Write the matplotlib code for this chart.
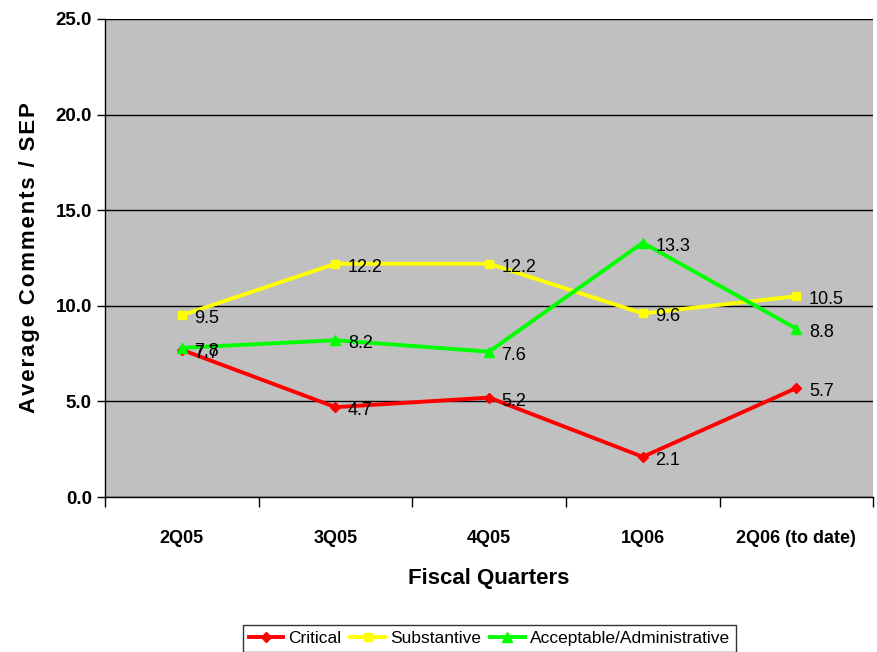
import matplotlib.pyplot as plt
import numpy as np

quarters = ['2Q05', '3Q05', '4Q05', '1Q06', '2Q06 (to date)']
critical = [7.7, 4.7, 5.2, 2.1, 5.7]
substantive = [9.5, 12.2, 12.2, 9.6, 10.5]
acceptable = [7.8, 8.2, 7.6, 13.3, 8.8]

plt.rcParams['font.family'] = ['Liberation Sans', 'DejaVu Sans']

fig = plt.figure(figsize=(8.77, 6.52), dpi=100)
ax = fig.add_axes([0.1197, 0.2377, 0.876, 0.7332])
ax.set_facecolor('#C0C0C0')

x = np.arange(len(quarters))
series = [(critical, '#FF0000', 'D', 5, 'Critical'),
          (substantive, '#FFFF00', 's', 6, 'Substantive'),
          (acceptable, '#00FF00', '^', 7, 'Acceptable/Administrative')]
for vals, col, mk, ms, lab in series:
    ax.plot(x, vals, color=col, marker=mk, markersize=ms, linewidth=2.8, label=lab)
    for xi, v in zip(x, vals):
        ax.annotate('%.1f' % v, (xi, v), xytext=(9, -2.5), textcoords='offset points',
                    ha='left', va='center', fontsize=13, color='black')

ax.set_xlim(-0.5, len(quarters) - 0.5)
ax.set_ylim(0, 25)
ax.set_yticks(np.arange(0, 26, 5))
ax.set_yticklabels(['%.1f' % v for v in np.arange(0, 26, 5)], fontsize=13.5, fontweight='bold')
ax.set_xticks(x)
ax.set_xticklabels(quarters, fontsize=13, fontweight='bold')
ax.set_xticks(np.arange(-0.5, len(quarters)), minor=True)
ax.tick_params(axis='x', which='major', length=0, pad=24)
ax.tick_params(axis='x', which='minor', length=7, width=1)
ax.tick_params(axis='y', length=6, width=1)
ax.yaxis.grid(True, color='black', linewidth=1)
ax.set_axisbelow(True)
for s in ['top', 'right']:
    ax.spines[s].set_visible(False)
ax.spines['left'].set_linewidth(1)
ax.spines['bottom'].set_linewidth(1)

ax.set_xlabel('Fiscal Quarters', fontsize=16, fontweight='bold', labelpad=15)
ax.set_ylabel('\u200a'.join('Average Comments / SEP'), fontsize=16, fontweight='bold', labelpad=11)

leg = fig.legend(loc='lower center', bbox_to_anchor=(0.558, -0.014), ncol=3, fontsize=12.5,
                 frameon=True, fancybox=False, edgecolor='black', handlelength=2.0,
                 handletextpad=0.3, columnspacing=0.5, borderpad=0.35)
leg.get_frame().set_linewidth(1)

fig.savefig('out.png', dpi=100)
